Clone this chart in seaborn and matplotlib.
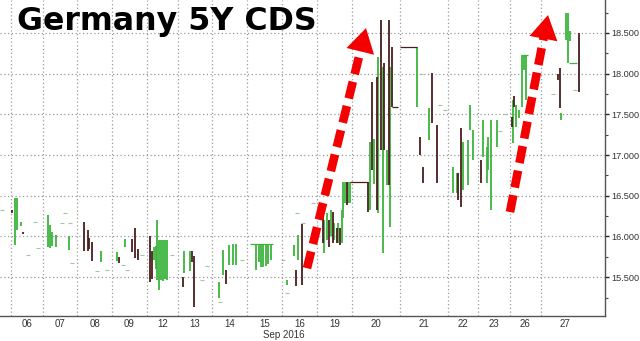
import numpy as np
import pandas as pd
import matplotlib
matplotlib.use("Agg")
import matplotlib.pyplot as plt
import seaborn as sns

# ---------------- data ----------------
days = ['06', '07', '08', '09', '12', '13', '14', '15', '16', '19', '20', '21', '22', '23', '26', '27']
day_start = [11, 43, 77, 112, 147, 178, 212, 247, 282, 317, 352, 400, 448, 478, 510, 541]
day_end = day_start[1:] + [589]
month_label = 'Sep 2016'
month_pos = 284

# intraday candles: session time index, low, high, direction (+1 up / -1 down)
bar_t = [12, 15, 17, 21, 23, 48, 50, 52, 56, 69, 84, 88, 89, 92, 101, 117, 119, 125, 132, 135, 138,
         150, 152, 154, 156, 157, 159, 161, 163, 165, 167, 183, 184, 190, 192, 194,
         219, 223, 226, 229, 233, 236, 256, 259, 261, 263, 266, 268, 271,
         287, 294, 296, 298, 302,
         323, 324, 327, 329, 331, 333, 334, 337, 338, 340, 342, 343, 345, 347, 348, 350,
         368, 370, 372, 374, 377, 378, 381, 383, 384, 387, 389, 390, 392,
         417, 420, 423, 429, 432, 437,
         453, 457, 458, 461, 463, 468, 470, 473,
         481, 483, 487, 488, 491, 497,
         512, 513, 514, 516, 519, 522, 524, 526,
         558, 560, 561, 566, 568, 570, 579]
bar_low = [16.29, 15.90, 16.08, 16.13, 16.03, 15.87, 15.86, 15.88, 15.87, 15.83, 15.82, 15.82, 15.85, 15.70, 15.69,
           15.70, 15.68, 15.87, 15.81, 15.74, 15.71,
           15.44, 15.48, 15.71, 15.60, 15.47, 15.34, 15.47, 15.45, 15.48, 15.47, 15.38, 15.55, 15.57, 15.69, 15.13,
           15.24, 15.53, 15.42, 15.65, 15.65, 15.65, 15.59, 15.69, 15.62, 15.63, 15.64, 15.66, 15.71,
           15.40, 15.76, 15.39, 15.71, 15.40,
           15.92, 15.80, 15.96, 15.87, 16.00, 15.92, 15.96, 15.92, 15.92, 15.90, 15.92, 16.23, 16.41, 16.39, 16.41, 16.41,
           16.30, 16.33, 16.82, 16.65, 16.33, 16.29, 17.06, 15.80, 17.06, 16.63, 16.63, 16.12, 17.59,
           17.59, 17.00, 16.66, 17.19, 17.39, 16.66,
           16.53, 16.53, 16.45, 16.36, 16.57, 16.63, 17.31, 16.94,
           16.66, 16.98, 16.66, 16.82, 16.33, 17.10,
           17.35, 17.15, 17.59, 17.35, 17.45, 17.59, 18.05, 17.68,
           17.92, 17.58, 17.43, 18.41, 18.13, 18.40, 17.78]
bar_high = [16.32, 16.47, 16.47, 16.18, 16.06, 16.26, 16.14, 16.05, 16.02, 16.01, 16.18, 16.08, 15.98, 15.93, 15.82,
            15.81, 15.75, 15.97, 15.97, 16.10, 15.85,
            16.01, 15.82, 15.87, 15.88, 16.20, 15.96, 15.96, 15.96, 15.96, 15.96, 15.50, 15.82, 15.82, 15.82, 15.76,
            15.44, 15.83, 15.59, 15.90, 15.91, 15.91, 15.90, 15.90, 15.90, 15.90, 15.90, 15.90, 15.90,
            15.47, 15.90, 15.59, 16.02, 16.15,
            16.24, 16.20, 16.29, 16.20, 16.33, 16.30, 16.17, 16.10, 16.17, 16.10, 16.33, 16.67, 16.67, 16.67, 16.67, 16.67,
            16.67, 17.16, 17.90, 17.20, 17.96, 18.21, 18.66, 18.08, 18.13, 17.06, 18.66, 18.08, 18.33,
            18.33, 17.22, 16.85, 17.58, 18.01, 17.37,
            16.85, 16.78, 16.78, 17.33, 17.16, 17.19, 17.62, 17.31,
            16.94, 17.43, 17.10, 17.22, 17.43, 17.43,
            17.47, 17.68, 17.72, 17.62, 17.55, 18.23, 18.23, 18.23,
            18.00, 18.07, 17.52, 18.74, 18.74, 18.52, 18.50]
bar_dir = [-1, 1, 1, 1, -1, 1, 1, 1, 1, 1, -1, -1, -1, -1, 1, 1, -1, 1, -1, -1, -1,
           -1, -1, 1, 1, 1, 1, 1, 1, 1, 1, -1, 1, 1, -1, -1,
           1, 1, -1, 1, 1, 1, 1, 1, 1, 1, 1, 1, 1,
           1, 1, -1, 1, -1,
           -1, 1, 1, -1, 1, -1, 1, -1, 1, -1, 1, 1, 1, -1, 1, 1,
           -1, 1, -1, 1, -1, 1, -1, 1, -1, 1, -1, 1, -1,
           1, -1, -1, 1, -1, -1,
           1, 1, -1, -1, 1, 1, 1, 1,
           -1, 1, 1, 1, 1, 1,
           -1, 1, -1, 1, 1, 1, 1, 1,
           -1, -1, 1, 1, 1, 1, -1]

# flat (no-trade) stretches
flat_t0 = [250, 350, 392, 400, 522, 569]
flat_t1 = [273, 368, 398, 417, 528, 577]
flat_v = [15.91, 16.67, 17.59, 18.33, 18.23, 18.13]
flat_dir = [1, -1, -1, -1, 1, 1]

# isolated ticks
dot_t = [2, 28, 35, 38, 62, 65, 70, 72, 97, 107, 123, 127, 142, 172, 202, 207, 220, 242, 283, 287, 297, 303,
         313, 421, 440, 445, 500, 505, 535, 548, 553, 575]
dot_v = [16.33, 15.77, 16.18, 15.86, 16.17, 16.29, 16.17, 15.67, 15.58, 15.59, 15.65, 15.59, 15.77, 15.77,
         15.47, 15.64, 15.20, 15.71, 15.71, 15.31, 16.29, 16.17, 16.41, 18.00, 17.62, 17.55, 17.30, 17.50,
         17.90, 18.45, 17.75, 17.80]

yticks = [15.5, 16.0, 16.5, 17.0, 17.5, 18.0, 18.5]
yminor = [15.25, 15.75, 16.25, 16.75, 17.25, 17.75, 18.25, 18.75]

# trend arrows (tail, tip) in chart coordinates
arrow_tail = [(307, 15.61), (510, 16.30)]
arrow_tip = [(366, 18.56), (548, 18.72)]

title = 'Germany 5Y CDS'

# ---------------- style ----------------
sns.set_theme(style='white')
plt.rcParams['font.family'] = ['DejaVu Sans']

UP = '#3cb43c'
DN = '#4a1e1e'
GRID = '#9a9a9a'

W, H = 640, 341
fig = plt.figure(figsize=(W / 100, H / 100), dpi=100)
fig.patch.set_facecolor('white')
ax = fig.add_axes([0, 1 - 316 / H, 605 / W, 316 / H])
ax.set_facecolor('white')
ax.set_xlim(0, 605)
ax.set_ylim(15.023, 18.905)

# grid
for ys in yticks:
    ax.axhline(ys, color=GRID, lw=0.9, ls=(0, (1, 2)), zorder=0)
for xs in day_start:
    ax.axvline(xs, color=GRID, lw=0.9, ls=(0, (1, 2)), zorder=0)

# candles
df = pd.DataFrame({'t': bar_t, 'low': bar_low, 'high': bar_high, 'dir': bar_dir})
for d, col in [(1, UP), (-1, DN)]:
    sub = df[df['dir'] == d]
    ax.vlines(sub['t'], sub['low'], sub['high'], color=col, lw=1.3, zorder=3)

fl = pd.DataFrame({'t0': flat_t0, 't1': flat_t1, 'v': flat_v, 'dir': flat_dir})
for d, col in [(1, UP), (-1, DN)]:
    sub = fl[fl['dir'] == d]
    ax.hlines(sub['v'], sub['t0'], sub['t1'], color=col, lw=0.9, zorder=3)

dots = pd.DataFrame({'t': dot_t, 'v': dot_v})
sns.scatterplot(data=dots, x='t', y='v', ax=ax, marker='_', s=12, color='#9cc89c',
                linewidth=0.8, legend=False, zorder=2)

# arrows
for (tx, ty), (hx, hy) in zip(arrow_tail, arrow_tip):
    p0 = ax.transData.transform((tx, ty))
    p1 = ax.transData.transform((hx, hy))
    u = (p1 - p0) / np.hypot(*(p1 - p0))
    pb = p1 - u * 22
    bx, by = ax.transData.inverted().transform(pb)
    ax.plot([tx, bx], [ty, by], color='#f40000', lw=6.2, dashes=(2.0, 0.9),
            dash_capstyle='butt', solid_capstyle='butt', zorder=5)
    ax.annotate('', xy=(hx, hy), xytext=(bx, by),
                arrowprops=dict(arrowstyle='-|>,head_length=1.15,head_width=0.68',
                                mutation_scale=15, color='#f40000', lw=0,
                                shrinkA=0, shrinkB=0), zorder=6)

# axes / ticks
ax.set_xlabel('')
ax.set_ylabel('')
ax.yaxis.tick_right()
ax.set_yticks(yticks)
ax.set_yticklabels([f'{v:.3f}' for v in yticks])
ax.set_yticks(yminor, minor=True)
ax.tick_params(axis='y', which='major', direction='out', length=3, width=1, color='#222222',
               labelsize=6.6, labelcolor='#333333', pad=1.5, left=False, right=True)
ax.tick_params(axis='y', which='minor', direction='out', length=2, width=0.8, color='#444444',
               left=False, right=True)
for lab in ax.get_yticklabels():
    lab.set_fontfamily(['Liberation Sans', 'DejaVu Sans'])

centers = [(a + b) / 2 for a, b in zip(day_start, day_end)]
ax.set_xticks([])
ax.set_xticks(centers, minor=True)
ax.set_xticklabels(days, minor=True)
ax.tick_params(axis='x', which='minor', length=0, labelsize=7, labelcolor='#333333', pad=2.5)
for lab in ax.get_xticklabels(minor=True):
    lab.set_fontfamily(['Liberation Sans', 'DejaVu Sans'])

ax.text(month_pos, -0.060, month_label, transform=ax.get_xaxis_transform(), ha='center', va='center',
        fontsize=7, color='#333333', family=['Liberation Sans', 'DejaVu Sans'])

for side in ['left', 'top']:
    ax.spines[side].set_visible(False)
ax.spines['bottom'].set_color('#555555')
ax.spines['bottom'].set_linewidth(1.0)
ax.spines['right'].set_color('#555555')
ax.spines['right'].set_linewidth(1.0)

fig.text(17 / W, 1 - 6 / H, title, ha='left', va='top', fontsize=22.8, fontweight='bold', color='black',
         family=['DejaVu Sans'])

fig.savefig('out.png', dpi=100, facecolor='white')
